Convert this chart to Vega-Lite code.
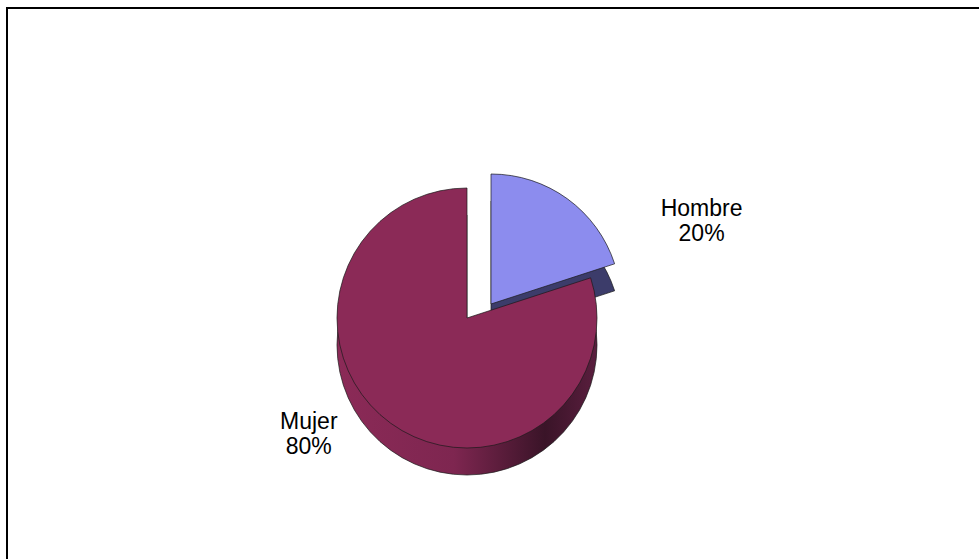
{
  "$schema": "https://vega.github.io/schema/vega-lite/v6.json",
  "autosize": "none",
  "width": 975,
  "height": 555,
  "padding": {"left": 7, "top": 8, "right": 0, "bottom": 0},
  "background": "white",
  "data": {"values": [
    {"sexo": "Hombre", "valor": 20, "etiqueta": "Hombre\n20%"},
    {"sexo": "Mujer", "valor": 80, "etiqueta": "Mujer\n80%"}
  ]},
  "transform": [
    {"stack": "valor", "groupby": [], "sort": [{"field": "valor", "order": "ascending"}], "as": ["t0", "t1"]},
    {"calculate": "(datum.t0 + datum.t1) / 2", "as": "tm"}
  ],
  "layer": [
    {
      "mark": {"type": "rect", "x": 0, "y": 0, "x2": 995, "y2": 575, "fill": null, "stroke": "#000000", "strokeWidth": 2},
      "encoding": {}
    },
    {
      "transform": [{"filter": "datum.sexo === 'Hombre'"}],
      "mark": {"type": "arc", "x": 484, "y": 323, "outerRadius": 130, "fill": "#3C3C6A", "stroke": "#1a1a1a", "strokeWidth": 0.7},
      "encoding": {
        "theta": {"field": "t0", "type": "quantitative", "scale": {"domain": [0, 100], "range": [0, 6.283185]}},
        "theta2": {"field": "t1"}
      }
    },
    {
      "transform": [{"filter": "datum.sexo === 'Hombre'"}],
      "mark": {"type": "arc", "x": 484, "y": 296, "outerRadius": 130, "fill": "#8C8CEE", "stroke": "#1a1a1a", "strokeWidth": 0.7},
      "encoding": {
        "theta": {"field": "t0", "type": "quantitative"},
        "theta2": {"field": "t1"}
      }
    },
    {
      "transform": [{"filter": "datum.sexo === 'Mujer'"}],
      "mark": {"type": "arc", "x": 460, "y": 337, "outerRadius": 130, "stroke": "#1a1a1a", "strokeWidth": 0.7,
        "fill": {"gradient": "linear", "x1": 0, "x2": 1, "y1": 0, "y2": 0, "stops": [
          {"offset": 0, "color": "#8B2A57"},
          {"offset": 0.45, "color": "#7E2650"},
          {"offset": 0.8, "color": "#3A1428"},
          {"offset": 1, "color": "#5A1E3E"}
        ]}},
      "encoding": {
        "theta": {"field": "t0", "type": "quantitative"},
        "theta2": {"field": "t1"}
      }
    },
    {
      "transform": [{"filter": "datum.sexo === 'Mujer'"}],
      "mark": {"type": "arc", "x": 460, "y": 310, "outerRadius": 130, "fill": "#8B2A57", "stroke": "#1a1a1a", "strokeWidth": 0.7},
      "encoding": {
        "theta": {"field": "t0", "type": "quantitative"},
        "theta2": {"field": "t1"}
      }
    },
    {
      "transform": [{"filter": "datum.sexo === 'Hombre'"}],
      "mark": {"type": "text", "x": 484, "y": 296, "radius": 227, "thetaOffset": 0.56, "dy": -10, "font": "Liberation Sans", "fontSize": 23, "lineHeight": 25, "lineBreak": "\n", "color": "#000000", "align": "center", "baseline": "middle"},
      "encoding": {
        "theta": {"field": "tm", "type": "quantitative"},
        "text": {"field": "etiqueta"}
      }
    },
    {
      "transform": [{"filter": "datum.sexo === 'Mujer'"}],
      "mark": {"type": "text", "x": 460, "y": 310, "radius": 195, "thetaOffset": 0.318, "dy": -10, "font": "Liberation Sans", "fontSize": 23, "lineHeight": 25, "lineBreak": "\n", "color": "#000000", "align": "center", "baseline": "middle"},
      "encoding": {
        "theta": {"field": "tm", "type": "quantitative"},
        "text": {"field": "etiqueta"}
      }
    }
  ]
}
